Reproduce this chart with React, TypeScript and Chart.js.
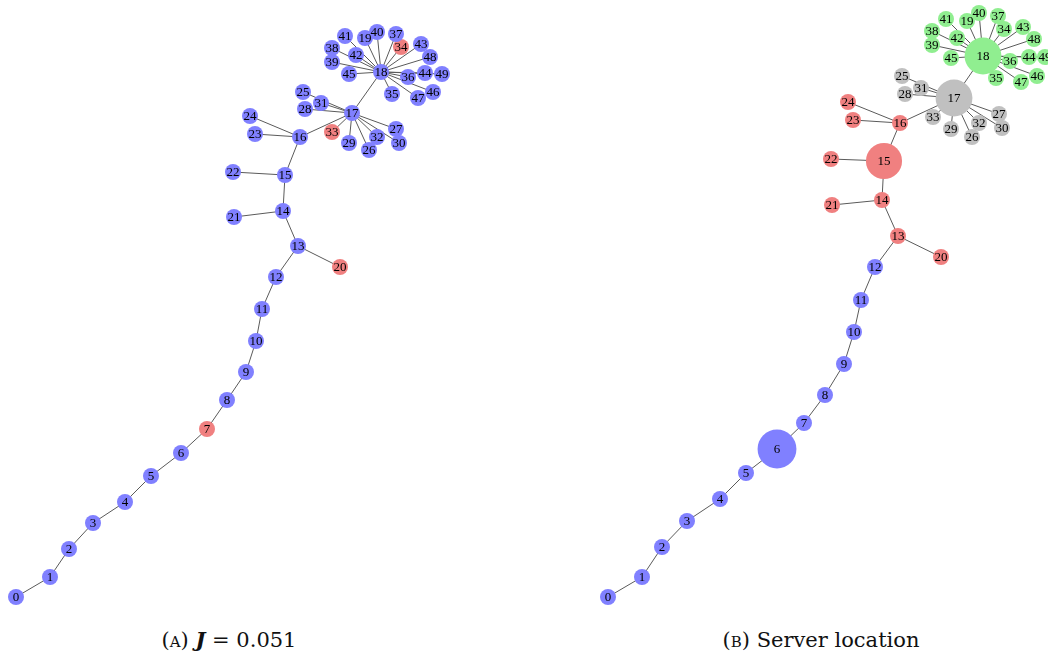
import React, { useEffect, useRef } from "react";
import { Chart, registerables } from "chart.js";

Chart.register(...registerables);

// Node ids 0..49
const nodeIds: number[] = Array.from({ length: 50 }, (_, i) => i);

// Tree edges (parent, child)
const edges: [number, number][] = [
  [0, 1], [1, 2], [2, 3], [3, 4], [4, 5], [5, 6], [6, 7], [7, 8], [8, 9], [9, 10],
  [10, 11], [11, 12], [12, 13], [13, 14], [13, 20], [14, 15], [14, 21], [15, 16], [15, 22],
  [16, 17], [16, 23], [16, 24],
  [17, 18], [17, 25], [17, 26], [17, 27], [17, 28], [17, 29], [17, 30], [17, 31], [17, 32], [17, 33],
  [18, 19], [18, 34], [18, 35], [18, 36], [18, 37], [18, 38], [18, 39], [18, 40], [18, 41],
  [18, 42], [18, 43], [18, 44], [18, 45], [18, 46], [18, 47], [18, 48], [18, 49],
];

// Layout (A) — coordinates of node i
const layoutAX: number[] = [
  16, 50, 69, 93, 125, 151, 181, 207, 227, 246,
  256, 262, 276, 298, 283, 285, 300, 352, 381, 365,
  340, 234, 233, 255, 250, 303, 369, 396, 305, 349,
  399, 321, 377, 332, 401, 392, 408, 396, 332, 332,
  377, 345, 356, 421, 425, 349, 433, 418, 430, 442,
];
const layoutAY: number[] = [
  597, 577, 549, 523, 502, 476, 453, 429, 400, 372,
  341, 309, 277, 246, 211, 175, 137, 113, 72, 38,
  267, 217, 172, 134, 116, 92, 150, 129, 109, 143,
  143, 103, 137, 132, 47, 94, 77, 34, 48, 62,
  32, 36, 55, 44, 73, 74, 92, 98, 57, 74,
];
// Cluster in (A): 0 = blue, 1 = red
const clusterA: number[] = [
  0, 0, 0, 0, 0, 0, 0, 1, 0, 0,
  0, 0, 0, 0, 0, 0, 0, 0, 0, 0,
  1, 0, 0, 0, 0, 0, 0, 0, 0, 0,
  0, 0, 0, 1, 1, 0, 0, 0, 0, 0,
  0, 0, 0, 0, 0, 0, 0, 0, 0, 0,
];

// Layout (B)
const layoutBX: number[] = [
  608, 642, 662, 687, 720, 746, 777, 804, 825, 844,
  854, 861, 875, 898, 882, 884, 900, 954, 983, 967,
  941, 832, 831, 853, 848, 902, 972, 999, 905, 951,
  1002, 921, 979, 933, 1004, 996, 1010, 998, 932, 932,
  979, 946, 957, 1023, 1029, 951, 1037, 1021, 1034, 1045,
];
const layoutBY: number[] = [
  597, 577, 547, 521, 499, 473, 449, 423, 395, 364,
  332, 300, 267, 236, 200, 161, 123, 98, 56, 21,
  257, 205, 159, 120, 102, 76, 137, 114, 94, 129,
  128, 88, 123, 117, 29, 78, 61, 16, 31, 45,
  13, 19, 38, 27, 57, 58, 76, 82, 39, 57,
];
// Server location in (B): 0 = blue, 1 = red, 2 = gray, 3 = green
const serverB: number[] = [
  0, 0, 0, 0, 0, 0, 0, 0, 0, 0,
  0, 0, 0, 1, 1, 1, 1, 2, 3, 3,
  1, 1, 1, 1, 1, 2, 2, 2, 2, 2,
  2, 2, 2, 2, 3, 3, 3, 3, 3, 3,
  3, 3, 3, 3, 3, 3, 3, 3, 3, 3,
];
// Server weight (node size) in (B)
const weightB: number[] = [
  1, 1, 1, 1, 1, 1, 5.9, 1, 1, 1,
  1, 1, 1, 1, 1, 5.1, 1, 5.3, 5.3, 1,
  1, 1, 1, 1, 1, 1, 1, 1, 1, 1,
  1, 1, 1, 1, 1, 1, 1, 1, 1, 1,
  1, 1, 1, 1, 1, 1, 1, 1, 1, 1,
];

const PALETTE = ["#8080ff", "#f08080", "#c0c0c0", "#90ee90"];
const EDGE_COLOR = "#5a5a5a";
const BASE_R = 8;
const LABEL_FONT = "'Liberation Serif', 'DejaVu Serif', serif";
const CAPTION_FONT = "'DejaVu Serif', 'Liberation Serif', serif";

const labelPlugin = {
  id: "nodeLabels",
  afterDatasetsDraw(chart: any) {
    const ctx = chart.ctx;
    chart.data.datasets.forEach((ds: any, di: number) => {
      if (!ds.isNodes) return;
      const meta = chart.getDatasetMeta(di);
      ctx.save();
      ctx.font = `13px ${LABEL_FONT}`;
      ctx.fillStyle = "#000";
      ctx.textAlign = "center";
      ctx.textBaseline = "middle";
      meta.data.forEach((el: any, i: number) => {
        ctx.fillText(String(ds.labels[i]), el.x, el.y + 0.5);
      });
      ctx.restore();
    });
  },
};

function buildConfig(xs: number[], ys: number[], groups: number[], weights: number[] | null, xmin: number, xmax: number) {
  const edgeSets = edges.map(([a, b]) => ({
    type: "line" as const,
    data: [
      { x: xs[a], y: ys[a] },
      { x: xs[b], y: ys[b] },
    ],
    borderColor: EDGE_COLOR,
    borderWidth: 1,
    pointRadius: 0,
    showLine: true,
    fill: false,
    order: 2,
    clip: false as any,
  }));
  const radii = nodeIds.map((i) => (weights ? BASE_R * Math.sqrt(weights[i]) : BASE_R));
  const nodes: any = {
    type: "scatter" as const,
    data: nodeIds.map((i) => ({ x: xs[i], y: ys[i] })),
    labels: nodeIds,
    isNodes: true,
    pointRadius: radii,
    pointHoverRadius: radii,
    pointBackgroundColor: nodeIds.map((i) => PALETTE[groups[i]]),
    pointBorderWidth: 0,
    borderWidth: 0,
    order: 1,
    clip: false,
  };
  return {
    type: "scatter" as const,
    data: { datasets: [...edgeSets, nodes] },
    options: {
      animation: false as const,
      responsive: false,
      events: [],
      layout: { padding: 0, autoPadding: false },
      plugins: { legend: { display: false }, tooltip: { enabled: false } },
      scales: {
        x: { type: "linear" as const, min: xmin, max: xmax, display: false },
        y: { type: "linear" as const, min: 0, max: 620, reverse: true, display: false },
      },
    },
    plugins: [labelPlugin],
  };
}

function GraphPanel(props: { xs: number[]; ys: number[]; groups: number[]; weights: number[] | null; xmin: number; xmax: number; left: number }) {
  const ref = useRef<HTMLCanvasElement | null>(null);
  useEffect(() => {
    if (!ref.current) return;
    const chart = new Chart(ref.current, buildConfig(props.xs, props.ys, props.groups, props.weights, props.xmin, props.xmax) as any);
    return () => chart.destroy();
  }, []);
  return (
    <canvas
      ref={ref}
      width={524}
      height={620}
      style={{ position: "absolute", left: props.left, top: 0, width: 524, height: 620 }}
    />
  );
}

export default function App() {
  const captionStyle: React.CSSProperties = {
    position: "absolute",
    top: 627,
    fontFamily: CAPTION_FONT,
    fontSize: 21,
    color: "#111",
    whiteSpace: "nowrap",
    transform: "translateX(-50%)",
    lineHeight: "26px",
  };
  return (
    <div style={{ position: "fixed", left: 0, top: 0, width: 1048, height: 660, background: "#fff", overflow: "hidden" }}>
      <GraphPanel xs={layoutAX} ys={layoutAY} groups={clusterA} weights={null} xmin={0} xmax={524} left={0} />
      <GraphPanel xs={layoutBX} ys={layoutBY} groups={serverB} weights={weightB} xmin={524} xmax={1048} left={524} />
      <div style={{ ...captionStyle, left: 229 }}>
        (<span style={{ fontVariant: "small-caps" }}>a</span>){" "}
        <b><i>J</i></b> = 0.051
      </div>
      <div style={{ ...captionStyle, left: 821 }}>
        (<span style={{ fontVariant: "small-caps" }}>b</span>) Server location
      </div>
    </div>
  );
}
